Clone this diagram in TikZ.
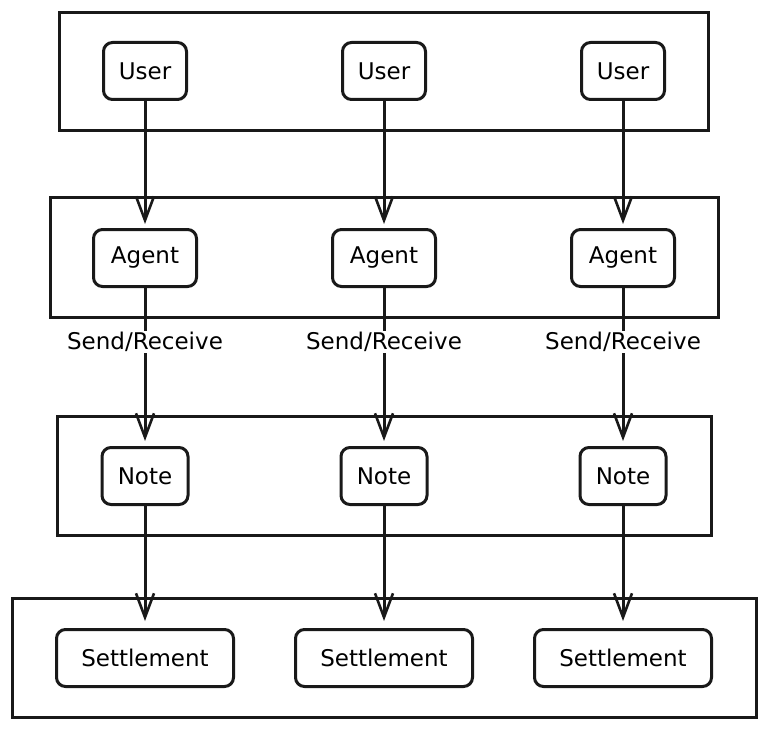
\documentclass[tikz,border=0pt]{standalone}
\usepackage{fontspec}
\setmainfont{DejaVu Sans}
\usetikzlibrary{arrows.meta,positioning}

\tikzset{
  groupbox/.style={draw=black!90, line width=3pt},
  itembox/.style={draw=black!90, line width=3pt, rounded corners=9pt, inner sep=0pt,
    minimum height=57pt, font=\fontsize{23}{27}\selectfont},
  flow/.style={draw=black!90, line width=3pt,
    -{Straight Barb[length=24pt,width=18pt,line width=2.6pt]}},
  flowlabel/.style={inner sep=1pt, font=\fontsize{23}{27}\selectfont}
}

\begin{document}
\begin{tikzpicture}[x=1pt,y=-1pt]
\useasboundingbox (0,0) rectangle (768,730);
%
\draw[groupbox] (59,13) rectangle (708,131);
\draw[groupbox] (50,198) rectangle (718,317);
\draw[groupbox] (57,416) rectangle (711,535);
\draw[groupbox] (12,598) rectangle (756,717);
%
\node[itembox, minimum width=83pt] (user1) at (145,71) {User};
\node[itembox, minimum width=83pt] (user2) at (384,71) {User};
\node[itembox, minimum width=83pt] (user3) at (623,71) {User};
%
\node[itembox, minimum width=103pt] (agent1) at (145,258) {Agent};
\node[itembox, minimum width=103pt] (agent2) at (384,258) {Agent};
\node[itembox, minimum width=103pt] (agent3) at (623,258) {Agent};
%
\node[flowlabel] (sr1) at (145,342) {Send/Receive};
\node[flowlabel] (sr2) at (384,342) {Send/Receive};
\node[flowlabel] (sr3) at (623,342) {Send/Receive};
%
\node[itembox, minimum width=86pt] (note1) at (145,476) {Note};
\node[itembox, minimum width=86pt] (note2) at (384,476) {Note};
\node[itembox, minimum width=86pt] (note3) at (623,476) {Note};
%
\node[itembox, minimum width=177pt] (settle1) at (145,658) {Settlement};
\node[itembox, minimum width=177pt] (settle2) at (384,658) {Settlement};
\node[itembox, minimum width=177pt] (settle3) at (623,658) {Settlement};
%
\draw[flow, shorten >=4pt] (user1) -- (agent1);
\draw[flow, shorten >=4pt] (user2) -- (agent2);
\draw[flow, shorten >=4pt] (user3) -- (agent3);
%
\draw[draw=black!90, line width=3pt] (agent1) -- (sr1);
\draw[draw=black!90, line width=3pt] (agent2) -- (sr2);
\draw[draw=black!90, line width=3pt] (agent3) -- (sr3);
\draw[flow, shorten >=5pt] (sr1) -- (note1);
\draw[flow, shorten >=5pt] (sr2) -- (note2);
\draw[flow, shorten >=5pt] (sr3) -- (note3);
%
\draw[flow, shorten >=7pt] (note1) -- (settle1);
\draw[flow, shorten >=7pt] (note2) -- (settle2);
\draw[flow, shorten >=7pt] (note3) -- (settle3);
\end{tikzpicture}
\end{document}
